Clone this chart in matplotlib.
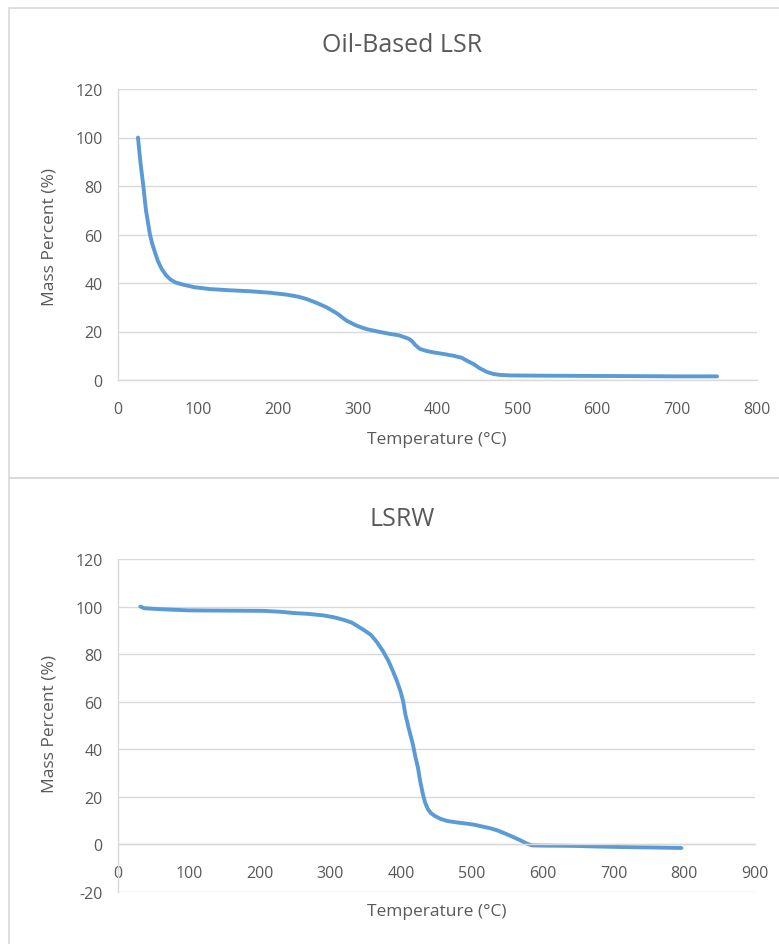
import matplotlib
matplotlib.use("Agg")
import matplotlib.pyplot as plt
from matplotlib.patches import Rectangle

# ---- data ----
oil_title = "Oil-Based LSR"
oil_temp = [25, 28, 31.7, 35, 40, 43, 46.3, 50, 54.7, 60, 65, 72, 81.8, 95, 115, 140, 165, 190,
            211, 225, 236, 248, 261, 274, 286, 298, 311, 325, 340.5, 352, 359, 364, 367.6,
            372, 378, 386, 394.7, 408, 420, 430, 436.6, 445, 453, 462, 470, 478, 490, 520,
            580, 650, 700, 750]
oil_mass = [100, 90, 80, 70, 60, 56, 52.6, 49, 45.8, 43.3, 41.6, 40.2, 39.3, 38.3, 37.5, 37.0, 36.6, 36.0,
            35.2, 34.4, 33.4, 31.9, 30.0, 27.5, 24.5, 22.5, 21.0, 20.0, 19.0, 18.4, 17.6, 17.0, 16.2,
            14.5, 12.8, 12.0, 11.4, 10.7, 10.0, 9.2, 8.0, 6.6, 4.8, 3.3, 2.5, 2.1, 1.9, 1.8,
            1.7, 1.6, 1.5, 1.5]

lsrw_title = "LSRW"
lsrw_temp = [31.6, 37, 60, 100, 150, 206, 230, 248, 270, 290, 305, 318, 330, 339, 348, 357,
             366, 374.5, 382, 388.5, 394, 399, 403, 406, 411, 416.6, 420, 423.7, 427, 430.7,
             434, 437.7, 442, 448, 456, 466, 480, 494, 505, 515, 526, 536, 546, 557, 568,
             578, 585, 600, 641, 680, 712, 760, 796]
lsrw_mass = [100, 99.3, 98.9, 98.4, 98.3, 98.2, 97.8, 97.3, 96.9, 96.3, 95.5, 94.5, 93.3, 91.7, 90.0, 88.2,
             85.0, 81.2, 77.2, 72.8, 68.8, 64.5, 60.0, 54.7, 48.5, 42.1, 37.0, 32.4, 26.5, 21.2,
             17.5, 14.9, 13.2, 11.9, 10.7, 9.8, 9.2, 8.7, 8.2, 7.5, 6.8, 5.9, 4.7, 3.3, 1.8,
             0.3, -0.4, -0.5, -0.6, -0.9, -1.1, -1.3, -1.5]

x_label = "Temperature (°C)"
y_label = "Mass Percent (%)"
oil_xticks = [0, 100, 200, 300, 400, 500, 600, 700, 800]
oil_yticks = [0, 20, 40, 60, 80, 100, 120]
lsrw_xticks = [0, 100, 200, 300, 400, 500, 600, 700, 800, 900]
lsrw_yticks = [-20, 0, 20, 40, 60, 80, 100, 120]

# ---- style ----
plt.rcParams['font.family'] = ['Open Sans', 'DejaVu Sans']
LINE = '#5B9BD5'
GRID = '#D9D9D9'
TXT = '#595959'
W, H = 779, 945

fig = plt.figure(figsize=(W / 100, H / 100), dpi=100)

# chart frames
fig.patches.append(Rectangle((8.5 / W, 1 - 479 / H), 1.0, 470 / H, transform=fig.transFigure,
                             fill=False, edgecolor=GRID, lw=1.2))
fig.patches.append(Rectangle((8.5 / W, -0.1), 1.0, 1 - 479 / H + 0.1, transform=fig.transFigure,
                             fill=False, edgecolor=GRID, lw=1.2))


def style_axes(ax, xt, yt, xlim, ylim):
    ax.set_xlim(*xlim)
    ax.set_ylim(*ylim)
    ax.set_xticks(xt)
    ax.set_yticks(yt)
    ax.set_xticklabels([str(v) for v in xt])
    ax.set_yticklabels([str(v) for v in yt])
    ax.tick_params(length=0, labelsize=11.5, labelcolor=TXT)
    ax.tick_params(axis='y', pad=11)
    ax.tick_params(axis='x', pad=15)
    ax.grid(axis='y', color=GRID, lw=1)
    ax.set_axisbelow(True)
    for s in ['top', 'right']:
        ax.spines[s].set_visible(False)
    for s in ['left', 'bottom']:
        ax.spines[s].set_color(GRID)
        ax.spines[s].set_linewidth(1)


# top chart
ax1 = fig.add_axes([118 / W, 1 - 381 / H, (757 - 118) / W, (381 - 90) / H])
style_axes(ax1, oil_xticks, oil_yticks, (0, 800), (0, 120))
ax1.plot(oil_temp, oil_mass, color=LINE, lw=2.8, solid_capstyle='round')
fig.text(402 / W, 1 - 45 / H, oil_title, ha='center', va='center', fontsize=18, color=TXT)
fig.text(437 / W, 1 - 440 / H, x_label, ha='center', va='center', fontsize=12.5, color=TXT)
fig.text(50 / W, 1 - 237 / H, y_label, ha='center', va='center', rotation=90, fontsize=12.5, color=TXT)

# bottom chart
ax2 = fig.add_axes([118 / W, 1 - 893 / H, (755 - 118) / W, (893 - 560) / H])
style_axes(ax2, lsrw_xticks, lsrw_yticks, (0, 900), (-20, 120))
ax2.spines['bottom'].set_position(('data', 0))
ax2.plot(lsrw_temp, lsrw_mass, color=LINE, lw=2.8, solid_capstyle='round')
fig.text(402 / W, 1 - 520 / H, lsrw_title, ha='center', va='center', fontsize=18, color=TXT)
fig.text(437 / W, 1 - 912 / H, x_label, ha='center', va='center', fontsize=12.5, color=TXT)
fig.text(50 / W, 1 - 724 / H, y_label, ha='center', va='center', rotation=90, fontsize=12.5, color=TXT)

fig.savefig("out.png", dpi=100)
